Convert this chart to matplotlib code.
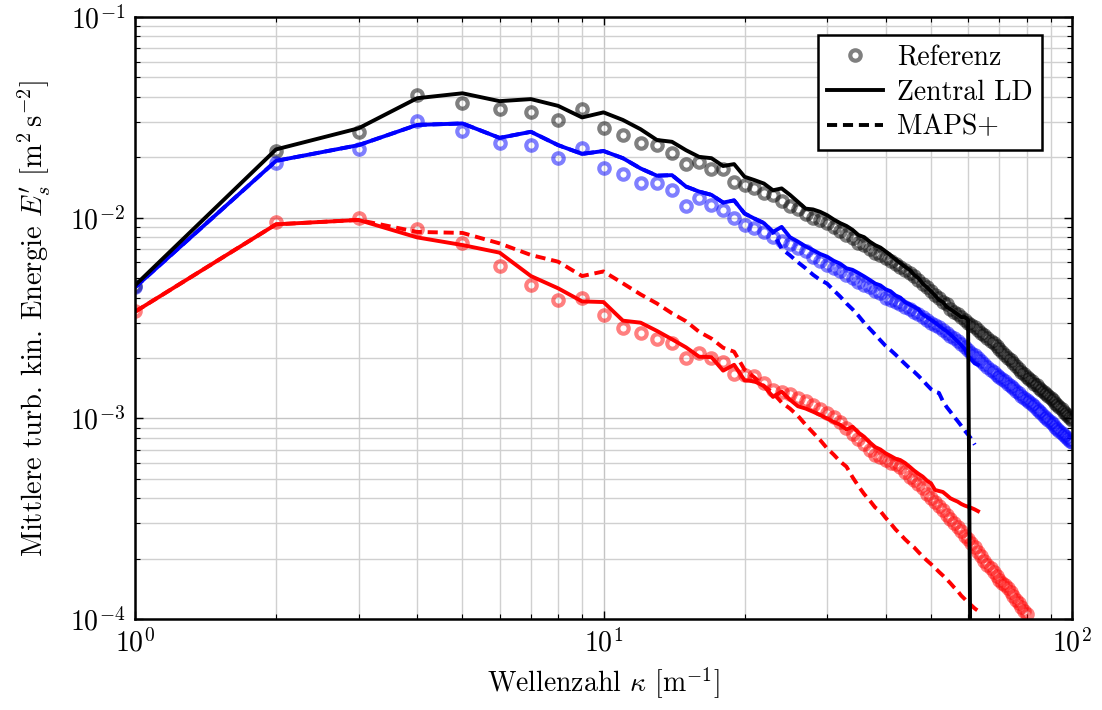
import matplotlib
matplotlib.use('Agg')
import matplotlib.pyplot as plt
from matplotlib.lines import Line2D
import numpy as np

plt.rcParams['font.family'] = 'serif'
plt.rcParams['font.serif'] = ['cmr10', 'DejaVu Serif']
plt.rcParams['mathtext.fontset'] = 'cm'
plt.rcParams['axes.formatter.use_mathtext'] = True

# Referenz (Kreise), k = 1 ... 100
ref_schwarz = [
    4.57e-3, 0.0215, 0.0267, 0.0409, 0.0373, 0.0348, 0.0336, 0.0307, 0.0348, 0.0280,
    0.0258, 0.0236, 0.0230, 0.0211, 0.0185, 0.0190, 0.0175, 0.0175, 0.0151, 0.0146,
    0.0140, 0.0133, 0.0130, 0.0121, 0.0114, 0.0110, 0.0104, 0.0100, 0.0097, 0.0094,
    0.0090, 0.0086, 0.0082, 0.0079, 0.0075, 0.0073, 0.0070, 0.0067, 0.0065, 0.0063,
    0.0061, 0.0059, 0.0057, 0.0055, 0.0053, 0.0051, 0.0049, 0.0047, 0.0045, 0.0043,
    0.0041, 0.0040, 0.0038, 0.0037, 0.0035, 0.0034, 0.0033, 0.0032, 0.0031, 0.0030,
    0.00292, 0.00284, 0.00276, 0.00268, 0.00260, 0.00252, 0.00244, 0.00237, 0.00229, 0.00221,
    0.00214, 0.00208, 0.00201, 0.00195, 0.00189, 0.00183, 0.00177, 0.00171, 0.00166, 0.00161,
    0.00157, 0.00153, 0.00149, 0.00146, 0.00142, 0.00139, 0.00135, 0.00132, 0.00129, 0.00126,
    0.00123, 0.00120, 0.00117, 0.00114, 0.00111, 0.00108, 0.00105, 0.00103, 0.00100, 0.00098]

ref_blau = [
    4.5e-3, 0.0187, 0.0220, 0.0303, 0.0270, 0.0236, 0.0230, 0.0198, 0.0222, 0.0177,
    0.0165, 0.0149, 0.0149, 0.0137, 0.0114, 0.0125, 0.0116, 0.0109, 0.0100, 0.0092,
    0.0089, 0.0085, 0.0080, 0.0077, 0.0074, 0.0071, 0.0068, 0.0064, 0.0061, 0.0058,
    0.0056, 0.0054, 0.0052, 0.0050, 0.0048, 0.0046, 0.0045, 0.0043, 0.0042, 0.0040,
    0.0039, 0.0038, 0.0037, 0.0036, 0.0035, 0.0034, 0.0033, 0.0032, 0.0031, 0.0030,
    0.00292, 0.00284, 0.00276, 0.00268, 0.00258, 0.00251, 0.00243, 0.00236, 0.00228, 0.00220,
    0.00213, 0.00206, 0.00199, 0.00193, 0.00187, 0.00181, 0.00175, 0.00170, 0.00165, 0.00161,
    0.00157, 0.00153, 0.00149, 0.00145, 0.00141, 0.00137, 0.00134, 0.00130, 0.00127, 0.00124,
    0.00121, 0.00118, 0.00115, 0.00112, 0.00109, 0.00106, 0.00103, 0.00101, 0.00098, 0.00096,
    0.00094, 0.00091, 0.00089, 0.00087, 0.00085, 0.00083, 0.00081, 0.00079, 0.00077, 0.000765]

ref_rot = [
    3.43e-3, 9.5e-3, 0.0100, 8.75e-3, 7.5e-3, 5.74e-3, 4.62e-3, 3.87e-3, 4.0e-3, 3.27e-3,
    2.81e-3, 2.65e-3, 2.48e-3, 2.37e-3, 2.01e-3, 2.11e-3, 1.99e-3, 1.92e-3, 1.66e-3, 1.65e-3,
    1.63e-3, 1.50e-3, 1.39e-3, 1.36e-3, 1.33e-3, 1.27e-3, 1.22e-3, 1.17e-3, 1.11e-3, 1.06e-3,
    1.02e-3, 9.6e-4, 9.0e-4, 8.4e-4, 7.9e-4, 7.5e-4, 7.0e-4, 6.6e-4, 6.4e-4, 6.2e-4,
    6.0e-4, 5.9e-4, 5.75e-4, 5.4e-4, 5.1e-4, 4.93e-4, 4.7e-4, 4.5e-4, 4.2e-4, 4.0e-4,
    3.85e-4, 3.65e-4, 3.5e-4, 3.3e-4, 3.15e-4, 3.0e-4, 2.87e-4, 2.74e-4, 2.6e-4, 2.5e-4,
    2.4e-4, 2.28e-4, 2.17e-4, 2.06e-4, 1.95e-4, 1.86e-4, 1.80e-4, 1.72e-4, 1.64e-4, 1.57e-4,
    1.51e-4, 1.48e-4, 1.43e-4, 1.37e-4, 1.31e-4, 1.25e-4, 1.20e-4, 1.15e-4, 1.10e-4, 1.06e-4]

# Zentral LD (durchgezogen)
zld_schwarz = [
    4.6e-3, 0.0219, 0.0279, 0.0394, 0.0417, 0.0381, 0.0390, 0.0361, 0.0316, 0.0335,
    0.0307, 0.0276, 0.0244, 0.0239, 0.0217, 0.0201, 0.0198, 0.0181, 0.0185, 0.0160,
    0.0154, 0.0148, 0.0137, 0.0140, 0.0130, 0.0120, 0.0111, 0.0110, 0.0107, 0.0103,
    0.0098, 0.0094, 0.0091, 0.0087, 0.0082, 0.0080, 0.0076, 0.0073, 0.0071, 0.0068,
    0.0065, 0.0062, 0.00595, 0.0057, 0.0055, 0.0052, 0.0050, 0.0047, 0.0045, 0.0043,
    0.0041, 0.0039, 0.0038, 0.0036, 0.0035, 0.0034, 0.0033, 0.0032, 0.0032, 0.0031,
    1e-5]

zld_blau = [
    4.5e-3, 0.0192, 0.0230, 0.0290, 0.0295, 0.0250, 0.0268, 0.0230, 0.0208, 0.0215,
    0.0198, 0.0176, 0.0162, 0.0163, 0.0143, 0.0135, 0.0130, 0.0119, 0.0122, 0.0105,
    0.0099, 0.0094, 0.0085, 0.0090, 0.0080, 0.0076, 0.0072, 0.0069, 0.0066, 0.0064,
    0.0061, 0.0059, 0.0056, 0.0055, 0.0053, 0.0051, 0.0049, 0.0047, 0.0046, 0.0044,
    0.0043, 0.0041, 0.0040, 0.0038, 0.0037, 0.0036, 0.0035, 0.0033, 0.0032, 0.0031,
    0.0030, 0.0029, 0.0028, 0.00272, 0.00262, 0.00252, 0.00242, 0.00232, 0.00222, 0.00205,
    0.00196, 0.00188, 0.00185]

zld_rot = [
    3.4e-3, 9.27e-3, 9.75e-3, 7.98e-3, 7.31e-3, 6.7e-3, 5.12e-3, 4.45e-3, 3.83e-3, 3.8e-3,
    3.07e-3, 3.0e-3, 2.73e-3, 2.48e-3, 2.26e-3, 2.03e-3, 2.02e-3, 1.73e-3, 1.85e-3, 1.55e-3,
    1.53e-3, 1.45e-3, 1.28e-3, 1.36e-3, 1.24e-3, 1.15e-3, 1.12e-3, 1.08e-3, 1.04e-3, 1.0e-3,
    9.6e-4, 9.3e-4, 8.8e-4, 9.1e-4, 8.5e-4, 8.1e-4, 7.6e-4, 7.2e-4, 7.0e-4, 6.7e-4,
    6.5e-4, 6.3e-4, 6.2e-4, 6.0e-4, 5.75e-4, 5.5e-4, 5.3e-4, 5.13e-4, 4.9e-4, 4.75e-4,
    4.4e-4, 4.35e-4, 4.3e-4, 4.15e-4, 4.0e-4, 3.92e-4, 3.85e-4, 3.75e-4, 3.68e-4, 3.63e-4,
    3.58e-4, 3.52e-4, 3.45e-4]

# MAPS+ (gestrichelt)
maps_blau = [
    4.5e-3, 0.0192, 0.0230, 0.0290, 0.0295, 0.0250, 0.0268, 0.0230, 0.0208, 0.0215,
    0.0198, 0.0176, 0.0162, 0.0163, 0.0143, 0.0135, 0.0130, 0.0119, 0.0122, 0.0105,
    0.0099, 0.0094, 0.0085, 7.0e-3, 6.5e-3, 6.0e-3, 5.6e-3, 5.2e-3, 4.9e-3, 4.7e-3,
    4.35e-3, 4.05e-3, 3.74e-3, 3.5e-3, 3.25e-3, 3.0e-3, 2.8e-3, 2.62e-3, 2.45e-3, 2.3e-3,
    2.19e-3, 2.08e-3, 1.97e-3, 1.87e-3, 1.78e-3, 1.71e-3, 1.63e-3, 1.55e-3, 1.47e-3, 1.40e-3,
    1.36e-3, 1.34e-3, 1.22e-3, 1.14e-3, 1.08e-3, 1.02e-3, 9.7e-4, 9.2e-4, 8.7e-4, 8.3e-4,
    7.9e-4, 7.4e-4]

maps_rot = [
    3.4e-3, 9.27e-3, 9.75e-3, 8.5e-3, 8.4e-3, 7.45e-3, 6.52e-3, 6.04e-3, 5.12e-3, 5.4e-3,
    4.71e-3, 4.15e-3, 3.74e-3, 3.34e-3, 3.05e-3, 2.7e-3, 2.5e-3, 2.25e-3, 2.15e-3, 1.75e-3,
    1.60e-3, 1.45e-3, 1.34e-3, 1.2e-3, 1.12e-3, 1.03e-3, 9.3e-4, 8.5e-4, 7.8e-4, 7.1e-4,
    6.6e-4, 6.1e-4, 5.75e-4, 5.1e-4, 4.6e-4, 4.2e-4, 3.9e-4, 3.6e-4, 3.45e-4, 3.2e-4,
    3.0e-4, 2.8e-4, 2.65e-4, 2.5e-4, 2.38e-4, 2.28e-4, 2.16e-4, 2.05e-4, 1.96e-4, 1.88e-4,
    1.8e-4, 1.72e-4, 1.65e-4, 1.58e-4, 1.51e-4, 1.44e-4, 1.38e-4, 1.31e-4, 1.26e-4, 1.21e-4,
    1.17e-4, 1.13e-4, 1.10e-4]

def kappa(werte):
    return np.arange(1, len(werte) + 1)

fig = plt.figure(figsize=(11.02, 7.10), dpi=100)
ax = fig.add_axes([0.1225, 0.128, 0.8503, 0.848])

kreis = dict(ls='none', marker='o', ms=7.5, mew=3.0, mfc='none', alpha=0.5)
ax.plot(kappa(ref_schwarz), ref_schwarz, color='black', **kreis)
ax.plot(kappa(ref_blau), ref_blau, color='blue', **kreis)
ax.plot(kappa(ref_rot), ref_rot, color='red', **kreis)

lw = 2.8
strich = (2.6, 1.5)
ax.plot(kappa(maps_blau), maps_blau, color='blue', lw=lw, dashes=strich)
ax.plot(kappa(maps_rot), maps_rot, color='red', lw=lw, dashes=strich)
ax.plot(kappa(zld_blau), zld_blau, color='blue', lw=lw)
ax.plot(kappa(zld_rot), zld_rot, color='red', lw=lw)
ax.plot(kappa(zld_schwarz), zld_schwarz, color='black', lw=lw)

ax.set_xscale('log')
ax.set_yscale('log')
ax.set_xlim(1, 100)
ax.set_ylim(1e-4, 1e-1)

ax.grid(True, which='major', color='#c4c4c4', lw=1.0)
ax.grid(True, which='minor', color='#d0d0d0', lw=1.0)
ax.set_axisbelow(True)
for s in ax.spines.values():
    s.set_linewidth(1.8)
ax.tick_params(which='both', direction='in', top=True, right=True, labelsize=20, pad=7)
ax.tick_params(which='major', length=6, width=1)
ax.tick_params(which='minor', length=3.5, width=0.8)

ax.set_xlabel(r'Wellenzahl $\kappa$ $[\mathrm{m}^{-1}]$', fontsize=20, labelpad=6)
ax.set_ylabel(r"Mittlere turb. kin. Energie $E_s'$ $[\mathrm{m}^{2}\,\mathrm{s}^{-2}]$",
              fontsize=20.5, labelpad=12)

griffe = [
    Line2D([], [], color='black', **kreis),
    Line2D([], [], color='black', lw=lw),
    Line2D([], [], color='black', lw=lw, dashes=strich),
]
leg = ax.legend(griffe, ['Referenz', 'Zentral LD', 'MAPS+'], loc='upper right',
                bbox_to_anchor=(0.968, 0.97), fontsize=20, fancybox=False,
                framealpha=1, edgecolor='black', handlelength=2.0,
                borderpad=0.35, labelspacing=0.3, handletextpad=0.5, borderaxespad=0)
leg.get_frame().set_linewidth(1.8)

fig.savefig('out.png', dpi=100)
